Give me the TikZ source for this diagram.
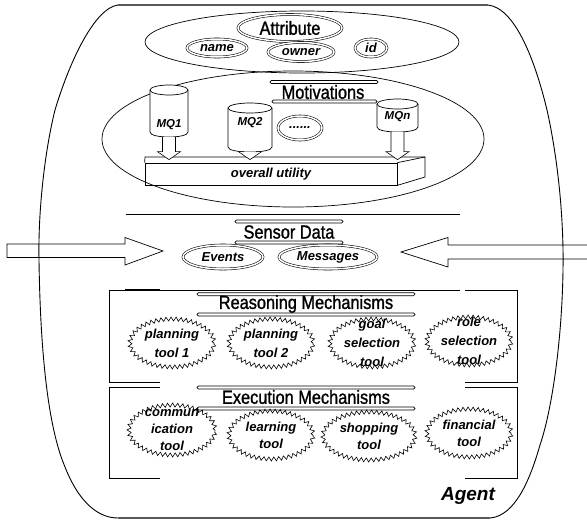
\documentclass[tikz,border=0pt]{standalone}
\usepackage{fontspec}
\setmainfont{Liberation Sans}
\newfontfamily\titlefont[FakeStretch=0.86,FakeBold=1.2]{Liberation Sans}
\usetikzlibrary{shapes.geometric,decorations.pathmorphing,calc}
\tikzset{
  dbl/.style={draw, double, double distance=1.5pt, line width=0.55pt, ellipse, inner sep=0pt},
  lbl/.style={font=\fontsize{13}{15}\selectfont\bfseries\itshape, inner sep=0pt},
  mqlbl/.style={font=\fontsize{11.5}{13}\selectfont\bfseries\itshape, inner sep=0pt},
  ttl/.style={font=\titlefont\fontsize{19}{20}\selectfont, inner sep=0pt},
  burst/.style={draw, ellipse, inner sep=0pt, line width=0.6pt, minimum width=84, minimum height=48,
     decorate, decoration={zigzag, segment length=5pt, amplitude=2pt}},
  bursttxt/.style={font=\fontsize{13}{17}\selectfont\bfseries\itshape, inner sep=0pt, align=center},
  bar/.style={draw, rounded corners=1.4pt, line width=0.6pt, fill=white},
  thin/.style={line width=0.7pt},
  blk/.style={draw, fill=white, line width=0.6pt},
}
\newcommand{\blkdown}[2]{\draw[blk] let \p1=(#1.south), \p2=(#2.north) in
  (\x1-6.5pt,\y1) -- (\x1-6.5pt,\y2+11pt) -- (\x1-11.5pt,\y2+11pt) -- (\x1,\y2+3pt)
  -- (\x1+11.5pt,\y2+11pt) -- (\x1+6.5pt,\y2+11pt) -- (\x1+6.5pt,\y1);}
\begin{document}
\begin{tikzpicture}[x=1pt,y=-1pt]
\useasboundingbox (0,0) rectangle (587,520);
% outer agent shape
\draw[line width=0.9pt] (118,5) -- (488,5)
  .. controls (515,8) and (535,60) .. (547,110)
  .. controls (556,150) and (564,210) .. (563,270)
  .. controls (562,340) and (552,410) .. (540,445)
  .. controls (530,480) and (515,516) .. (490,518)
  -- (118,518)
  .. controls (100,518) and (80,505) .. (65,467)
  .. controls (45,420) and (40,330) .. (39,260)
  .. controls (38,210) and (45,150) .. (55,110)
  .. controls (70,60) and (95,8) .. (118,5);
\draw[line width=1.4pt, black!65] (118,5) -- (488,5);
\draw[line width=1.4pt, black!65] (118,518) -- (490,518);

% Attribute
\node[draw, ellipse, thin, minimum width=314, minimum height=62, inner sep=0] (attrset) at (302,42) {};
\node[dbl, minimum width=104, minimum height=27] (attr) at (290,28) {\titlefont\fontsize{19}{20}\selectfont Attribute};
\node[dbl, minimum width=60, minimum height=18, lbl] (name) at (217,48) {name};
\node[dbl, minimum width=66, minimum height=19, lbl] (owner) at (301,52) {owner};
\node[dbl, minimum width=32, minimum height=18, lbl] (id) at (371,48) {id};

% Motivations
\node[draw, ellipse, thin, minimum width=382, minimum height=136, inner sep=0] (motset) at (293,139) {};
\draw[bar] (270,80.5) rectangle (378,83.5);
\node[ttl] (mot) at (323,92) {Motivations};
\draw[bar] (272,100) rectangle (377,103);

% cylinders
\draw[thin, fill=white] (150,90) -- (150,132) .. controls (150,138.7) and (188,138.7) .. (188,132) -- (188,90);
\draw[thin, fill=white] (169,90) ellipse [x radius=19, y radius=5];
\node[minimum width=38, minimum height=52, inner sep=0] (mq1) at (169,111) {};
\node[mqlbl] (mq1t) at (169,125) {MQ1};

\draw[thin, fill=white] (228,108) -- (228,147) .. controls (228,153.7) and (272,153.7) .. (272,147) -- (272,108);
\draw[thin, fill=white] (250,108) ellipse [x radius=22, y radius=5];
\node[minimum width=44, minimum height=49, inner sep=0] (mq2) at (250,127.5) {};
\node[mqlbl] (mq2t) at (250,123) {MQ2};

\draw[thin, fill=white] (377,104) -- (377,127) .. controls (377,133.7) and (418,133.7) .. (418,127) -- (418,104);
\draw[thin, fill=white] (397.5,104) ellipse [x radius=20.5, y radius=5];
\node[minimum width=41, minimum height=33, inner sep=0] (mqn) at (397.5,115.5) {};
\node[mqlbl] (mqnt) at (397.5,117) {MQn};

\node[dbl, minimum width=44, minimum height=24, lbl] (dots) at (300,128) {......};

% overall utility box
\node[draw, thin, minimum width=252, minimum height=22, inner sep=0, lbl] (util) at (271,174) {overall utility};
\draw[thin] (util.north west) -- (145,157) -- (425,157) -- (425,177) -- (util.south east);
\draw[thin] (util.north east) -- (425,157);

\blkdown{mq1}{util}
\blkdown{mq2}{util}
\blkdown{mqn}{util}

% Sensor data
\draw[thin] (126,214) -- (460,214);
\draw[bar] (235,220) rectangle (343,223);
\node[ttl] (sens) at (289,232) {Sensor Data};
\draw[bar] (235,241) rectangle (343,244);
\node[dbl, minimum width=80, minimum height=24, lbl] (events) at (223,257) {Events};
\node[dbl, minimum width=98, minimum height=24, lbl] (msgs) at (328,257) {Messages};
\draw[thin] (7,244) -- (125,244) -- (125,237.5) -- (163,251) -- (125,265) -- (125,257.5) -- (7,257.5) -- cycle;
\draw[thin] (587,245) -- (448,245) -- (448,237.5) -- (401,252) -- (448,267) -- (448,259) -- (587,259);

% Reasoning
\draw[thin] (109,290) -- (460,290);
\draw[thin] (465,290) -- (517,290) -- (517,382) -- (465,382);
\draw[thin] (160,382) -- (109,382) -- (109,290);
\draw[line width=1.4pt] (125,290) -- (160,290);
\draw[bar] (197,292.7) rectangle (415,295.7);
\node[ttl] (reas) at (306,304) {Reasoning Mechanisms};
\draw[bar] (197,313) rectangle (415,316);
\node[burst] (pt1) at (172,343) {};
\node[bursttxt] at (pt1) {planning\\[2pt]tool 1};
\node[burst] (pt2) at (271,343) {};
\node[bursttxt] at (pt2) {planning\\[2pt]tool 2};
\node[burst] (gst) at (372,343) {};
\node[bursttxt] at (gst) {goal\\[2pt]selection\\[2pt]tool};
\node[burst] (rst) at (469,341) {};
\node[bursttxt] at (rst) {role\\[2pt]selection\\[2pt]tool};

% Execution
\draw[thin] (160,387) -- (109,387) -- (109,478) -- (160,478);
\draw[thin] (465,387) -- (517,387) -- (517,478) -- (465,478);
\draw[bar] (197,386) rectangle (415,389);
\node[ttl] (exec) at (306,397) {Execution Mechanisms};
\draw[bar] (197,407) rectangle (415,410);
\node[burst, minimum width=86, minimum height=50] (comm) at (172,430) {};
\node[bursttxt] at (comm) {commun\\ication\\tool};
\node[burst] (learn) at (271,435) {};
\node[bursttxt] at (learn) {learning\\tool};
\node[burst, minimum width=92] (shop) at (369,436) {};
\node[bursttxt] at (shop) {shopping\\tool};
\node[burst] (fin) at (469,433) {};
\node[bursttxt] at (fin) {financial\\tool};

\node[font=\fontsize{19}{21}\selectfont\bfseries\itshape, inner sep=0] (agent) at (468,496) {Agent};
\end{tikzpicture}
\end{document}
